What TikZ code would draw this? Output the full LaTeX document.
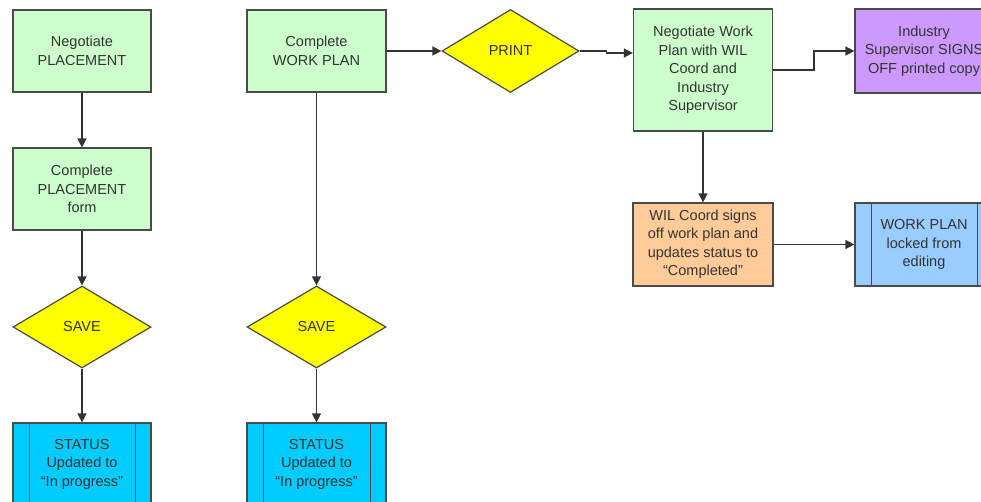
\documentclass[tikz,border=0pt]{standalone}
\usepackage{fontspec}
\setmainfont{Liberation Sans}
\usetikzlibrary{shapes.geometric,arrows.meta}
\definecolor{boxgreen}{HTML}{CCFFCC}
\definecolor{dyellow}{HTML}{FFFF00}
\definecolor{statcyan}{HTML}{00CCFF}
\definecolor{lockblue}{HTML}{99CCFF}
\definecolor{wilorange}{HTML}{FFCC99}
\definecolor{indpurple}{HTML}{CC99FF}
\definecolor{edgegrey}{HTML}{4A4A4A}
\definecolor{linegrey}{HTML}{333333}
\definecolor{txtgrey}{HTML}{333333}
\tikzset{
  base/.style={draw=edgegrey, line width=1.2pt, text=txtgrey, align=center, inner sep=1pt,
    font=\fontsize{14.5}{18.5}\selectfont},
  procbox/.style={base, rectangle, minimum width=138pt, minimum height=82pt},
  decision/.style={base, diamond, fill=dyellow, minimum width=138pt, minimum height=82pt},
  conn/.style={draw=linegrey, line width=1.4pt, -{Triangle[length=9pt,width=9pt]}},
  innerline/.style={draw=edgegrey, line width=1.2pt}
}
\begin{document}
\begin{tikzpicture}[x=1pt,y=-1pt]
\useasboundingbox (0,0) rectangle (981,502);
\clip (0,0) rectangle (981,502);
% left column
\node[procbox, fill=boxgreen] (n1) at (82,51) {Negotiate\\PLACEMENT};
\node[procbox, fill=boxgreen] (n2) at (82,189) {Complete\\PLACEMENT\\form};
\node[decision] (s1) at (82,327) {SAVE};
\node[procbox, fill=statcyan] (st1) at (82,464) {STATUS\\Updated to\\“In progress”};
% second column
\node[procbox, fill=boxgreen, minimum width=139pt] (w1) at (316.5,51) {Complete\\WORK PLAN};
\node[decision, minimum width=139pt] (s2) at (316.5,327) {SAVE};
\node[procbox, fill=statcyan, minimum width=139pt] (st2) at (316.5,464) {STATUS\\Updated to\\“In progress”};
% print
\node[decision, minimum width=137pt, minimum height=83pt] (p) at (510.5,51) {PRINT};
% negotiate work plan
\node[procbox, fill=boxgreen, minimum width=139pt, minimum height=122pt] (nw) at (703,70)
  {Negotiate Work\\Plan with WIL\\Coord and\\Industry\\Supervisor};
\node[procbox, fill=indpurple, minimum height=84pt] (ind) at (924,51)
  {Industry\\Supervisor SIGNS\\OFF printed copy};
\node[procbox, fill=wilorange, minimum width=140pt, minimum height=83pt] (wil) at (703,244.5)
  {WIL Coord signs\\off work plan and\\updates status to\\“Completed”};
\node[procbox, fill=lockblue, minimum height=83pt] (wpl) at (924,244.5)
  {WORK PLAN\\locked from\\editing};
% inner lines of predefined-process boxes
\foreach \b in {st1,st2,wpl}{
  \draw[innerline] ([xshift=17pt]\b.north west) -- ([xshift=17pt]\b.south west);
  \draw[innerline] ([xshift=-16pt]\b.north east) -- ([xshift=-16pt]\b.south east);
}
% connectors
\draw[conn] (n1) -- (n2);
\draw[conn] (n2) -- (s1);
\draw[conn] (s1) -- (st1);
\draw[conn] (w1) -- (s2);
\draw[conn] (s2) -- (st2);
\draw[conn] (w1.east) -- (p.west);
\draw[conn] (p.east) -- ++(27,0) |- ([yshift=17pt]nw.west);
\draw[conn] (nw.east) -- ++(41,0) |- (ind.west);
\draw[conn] (nw) -- (wil);
\draw[conn] (wil) -- (wpl);
\end{tikzpicture}
\end{document}
